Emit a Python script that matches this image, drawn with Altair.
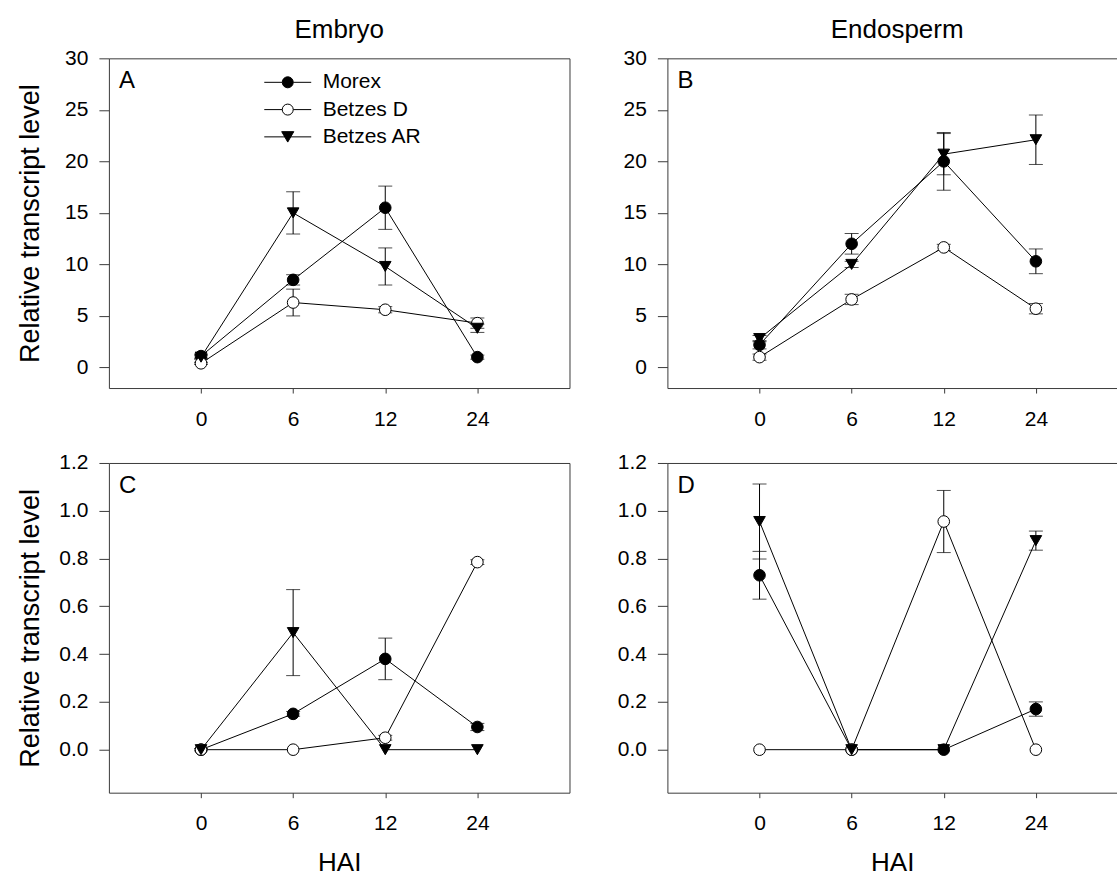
import json
import altair as alt
import pandas as pd

# ---------------- data ----------------
hai_labels = ["0", "6", "12", "24"]
series_names = ["Morex", "Betzes D", "Betzes AR"]
panel_letters = ["A", "B", "C", "D"]
column_titles = ["Embryo", "Endosperm"]
y_title = "Relative transcript level"
x_title = "HAI"

# Panel A (Embryo, top)
a_morex = [1.1, 8.5, 15.5, 1.0]
a_morex_err = [0.2, 0.5, 2.1, 0.2]
a_betzes_d = [0.4, 6.3, 5.6, 4.3]
a_betzes_d_err = [0.1, 1.3, 0.3, 0.5]
a_betzes_ar = [1.0, 15.0, 9.8, 3.8]
a_betzes_ar_err = [0.2, 2.05, 1.8, 0.4]

# Panel B (Endosperm, top)
b_morex = [2.2, 12.0, 20.0, 10.3]
b_morex_err = [0.4, 1.0, 2.8, 1.2]
b_betzes_d = [1.0, 6.6, 11.65, 5.7]
b_betzes_d_err = [0.3, 0.5, 0.3, 0.5]
b_betzes_ar = [2.8, 10.0, 20.7, 22.1]
b_betzes_ar_err = [0.3, 0.3, 2.0, 2.4]

# Panel C (Embryo, bottom)
c_morex = [0.0, 0.15, 0.38, 0.095]
c_morex_err = [0.005, 0.01, 0.087, 0.015]
c_betzes_d = [0.0, 0.0, 0.05, 0.785]
c_betzes_d_err = [0.0, 0.0, 0.01, 0.01]
c_betzes_ar = [0.0, 0.49, 0.0, 0.0]
c_betzes_ar_err = [0.0, 0.18, 0.0, 0.0]

# Panel D (Endosperm, bottom)
d_morex = [0.73, 0.0, 0.0, 0.17]
d_morex_err = [0.1, 0.0, 0.0, 0.03]
d_betzes_d = [0.0, 0.0, 0.955, 0.0]
d_betzes_d_err = [0.0, 0.0, 0.13, 0.0]
d_betzes_ar = [0.955, 0.0, 0.0, 0.875]
d_betzes_ar_err = [0.157, 0.0, 0.0, 0.04]

top_y_ticks = [0, 5, 10, 15, 20, 25, 30]
bottom_y_ticks = [0.0, 0.2, 0.4, 0.6, 0.8, 1.0, 1.2]

# ---------------- styling ----------------
FONT = "Liberation Sans"
FRAME = "#3a3a3a"
PANEL_H = 330
UNIT = 92.2  # px per HAI step


def build_df(vals, errs):
    rows = []
    for s, v, e in zip(series_names, vals, errs):
        for i, (vv, ee) in enumerate(zip(v, e)):
            rows.append({"series": s, "xi": i, "hai": hai_labels[i],
                         "value": vv, "lo": vv - ee, "hi": vv + ee, "err": ee})
    return pd.DataFrame(rows)


label_expr = json.dumps(hai_labels) + "[datum.value]"

circ = "M-4.27,0H-1M1,0H4.27M1,0A1,1 0 1,1 -1,0A1,1 0 1,1 1,0Z"
tri = "M-4.27,0H-0.5M0.5,0H4.27M0,0.95L1.1,-0.95L-1.1,-0.95Z"


def panel(df, ydom, yvals, yfmt, letter, width, xmax, title=None, title_dx=0,
          show_ytitle=False, ytitle_pad=20, show_xtitle=False, legend=False,
          right_border=True):
    xs = alt.Scale(domain=[-1, xmax], nice=False, zero=False)
    ys = alt.Scale(domain=ydom, nice=False, zero=False)
    base = alt.Chart(df)

    xaxis = alt.Axis(values=[0, 1, 2, 3], labelExpr=label_expr, tickSize=5,
                     labelPadding=15, grid=False, domainColor=FRAME, tickColor=FRAME,
                     labelFontSize=21, labelColor="black", labelFont=FONT,
                     title=x_title if show_xtitle else None, titlePadding=16,
                     titleFontSize=26, titleFont=FONT, titleFontWeight="normal",
                     titleColor="black")
    yaxis = alt.Axis(values=yvals, format=yfmt, tickSize=10, labelPadding=11,
                     grid=False, domainColor=FRAME, tickColor=FRAME,
                     labelFontSize=21, labelColor="black", labelFont=FONT,
                     title=y_title if show_ytitle else None, titlePadding=ytitle_pad,
                     titleFontSize=27, titleFont=FONT, titleFontWeight="normal",
                     titleColor="black")

    lines = base.mark_line(color="black", strokeWidth=1).encode(
        x=alt.X("xi:Q", scale=xs, axis=xaxis),
        y=alt.Y("value:Q", scale=ys, axis=yaxis),
        detail="series:N",
        order=alt.Order("xi:Q"),
    )
    eb = base.transform_filter("datum.err > 0")
    bars = eb.mark_rule(color="black", strokeWidth=1).encode(
        x=alt.X("xi:Q", scale=xs, axis=None),
        y=alt.Y("lo:Q", scale=ys, axis=None),
        y2="hi:Q",
    )
    cap_hi = eb.mark_tick(color="black", thickness=1, size=14, orient="horizontal").encode(
        x=alt.X("xi:Q", scale=xs, axis=None),
        y=alt.Y("hi:Q", scale=ys, axis=None),
    )
    cap_lo = eb.mark_tick(color="black", thickness=1, size=14, orient="horizontal").encode(
        x=alt.X("xi:Q", scale=xs, axis=None),
        y=alt.Y("lo:Q", scale=ys, axis=None),
    )
    points = base.mark_point(filled=True, stroke="black", strokeWidth=1, opacity=1).encode(
        x=alt.X("xi:Q", scale=xs, axis=None),
        y=alt.Y("value:Q", scale=ys, axis=None),
        shape=alt.Shape("series:N", scale=alt.Scale(domain=series_names,
                        range=["circle", "circle", "triangle-down"]), legend=None),
        fill=alt.Fill("series:N", scale=alt.Scale(domain=series_names,
                      range=["black", "white", "black"]), legend=None),
        size=alt.Size("series:N", scale=alt.Scale(domain=series_names,
                      range=[135, 135, 165]), legend=None),
    )
    letter_df = pd.DataFrame({"t": [letter]})
    letter_mark = alt.Chart(letter_df).mark_text(
        font=FONT, fontSize=24, align="left", baseline="alphabetic", color="black"
    ).encode(text="t:N", x=alt.value(10), y=alt.value(30))

    frame = base.transform_filter("false").mark_point(opacity=0).encode(
        x=alt.X("xi:Q", scale=xs, axis=alt.Axis(orient="top", labels=False, ticks=False,
                grid=False, domainColor=FRAME, title=None, minExtent=0, maxExtent=0)),
        y=alt.Y("value:Q", scale=ys, axis=(alt.Axis(orient="right", labels=False, ticks=False,
                grid=False, domainColor=FRAME, title=None, minExtent=0, maxExtent=0)
                if right_border else None)),
    )

    layers = [lines, bars, cap_hi, cap_lo, points, letter_mark, frame]
    if legend:
        leg_spec = alt.Legend(orient="none", legendX=168.5, legendY=13.5, title=None,
                              labelFontSize=21, labelFont=FONT, labelColor="black",
                              symbolStrokeWidth=1,
                              symbolSize=121, labelOffset=24.5, rowPadding=5.3,
                              padding=0)
        leg = base.transform_filter("false").mark_point(
            filled=True, strokeWidth=1, opacity=1, size=121
        ).encode(
            x=alt.X("xi:Q", scale=xs, axis=None),
            y=alt.Y("value:Q", scale=ys, axis=None),
            shape=alt.Shape("series:N", scale=alt.Scale(domain=series_names,
                            range=[circ, circ, tri]), legend=leg_spec),
            fill=alt.Fill("series:N", scale=alt.Scale(domain=series_names,
                          range=["black", "white", "black"]), legend=leg_spec),
            stroke=alt.Stroke("series:N", scale=alt.Scale(domain=series_names,
                              range=["black", "black", "black"]), legend=leg_spec),
        )
        layers.append(leg)

    ch = alt.layer(*layers).resolve_scale(
        shape="independent", fill="independent", size="independent", stroke="independent"
    ).resolve_axis(x="independent", y="independent").properties(width=width, height=PANEL_H)
    if title:
        ch = ch.properties(title=alt.TitleParams(
            text=title, fontSize=26, font=FONT, fontWeight="normal", anchor="middle",
            frame="group", baseline="alphabetic", offset=21.4, dx=title_dx, dy=38,
            color="black"))
    return ch


W_LEFT = 461
W_RIGHT = 450
XMAX_LEFT = 4.0
XMAX_RIGHT = -1 + W_RIGHT / UNIT

pA = panel(build_df([a_morex, a_betzes_d, a_betzes_ar], [a_morex_err, a_betzes_d_err, a_betzes_ar_err]),
           [-2, 30], top_y_ticks, "d", panel_letters[0], W_LEFT, XMAX_LEFT,
           title=column_titles[0], show_ytitle=True, ytitle_pad=20, legend=True)
pB = panel(build_df([b_morex, b_betzes_d, b_betzes_ar], [b_morex_err, b_betzes_d_err, b_betzes_ar_err]),
           [-2, 30], top_y_ticks, "d", panel_letters[1], W_RIGHT, XMAX_RIGHT,
           title=column_titles[1], title_dx=5, right_border=False)
pC = panel(build_df([c_morex, c_betzes_d, c_betzes_ar], [c_morex_err, c_betzes_d_err, c_betzes_ar_err]),
           [-0.18, 1.2], bottom_y_ticks, ".1f", panel_letters[2], W_LEFT, XMAX_LEFT,
           show_ytitle=True, ytitle_pad=14, show_xtitle=True)
pD = panel(build_df([d_morex, d_betzes_d, d_betzes_ar], [d_morex_err, d_betzes_d_err, d_betzes_ar_err]),
           [-0.18, 1.2], bottom_y_ticks, ".1f", panel_letters[3], W_RIGHT, XMAX_RIGHT,
           show_xtitle=True, right_border=False)

chart = alt.concat(pA, pB, pC, pD, columns=2, spacing={"row": 75, "column": 98},
                   bounds="flush").resolve_scale(
    x="independent", y="independent", shape="independent", fill="independent",
    size="independent", stroke="independent"
).properties(
    padding={"left": 16, "top": 16, "right": 0, "bottom": 0},
    background="white",
).configure_view(stroke=None)

chart.save("out.html", embed_options={"renderer": "svg", "actions": False})
